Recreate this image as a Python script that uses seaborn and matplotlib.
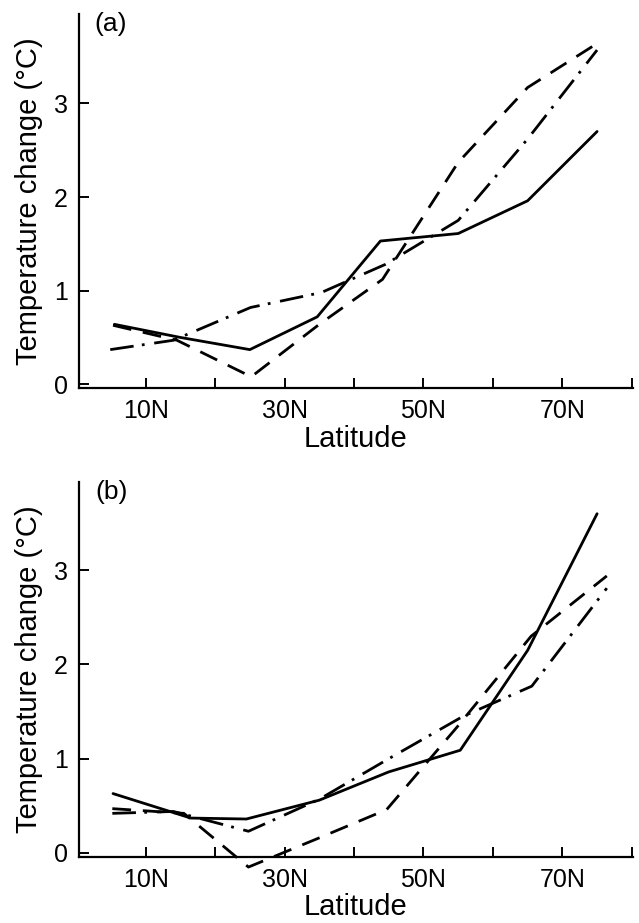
import matplotlib
matplotlib.use("Agg")
import matplotlib.pyplot as plt
import seaborn as sns
import pandas as pd

# ---------------- data ----------------
# Panel (a)
A_SOLID_LAT = [5.5, 15, 25, 34.7, 43.8, 55, 65, 75]
A_SOLID = [0.64, 0.50, 0.37, 0.72, 1.53, 1.61, 1.96, 2.70]
A_DASH_LAT = [5.3, 14.5, 25.2, 35, 44.1, 55, 65, 75]
A_DASH = [0.63, 0.47, 0.08, 0.64, 1.12, 2.37, 3.17, 3.64]
A_DASHDOT_LAT = [4.9, 14, 25.1, 35.3, 44.5, 55, 65, 75]
A_DASHDOT = [0.37, 0.47, 0.82, 0.98, 1.28, 1.75, 2.62, 3.57]

# Panel (b)
B_SOLID_LAT = [5.3, 16.5, 24.5, 35, 45, 55.3, 65, 75]
B_SOLID = [0.63, 0.37, 0.36, 0.56, 0.86, 1.09, 2.15, 3.60]
B_DASH_LAT = [5.2, 15.5, 24.8, 35, 44.7, 55, 65.5, 76.4]
B_DASH = [0.47, 0.42, -0.15, 0.16, 0.46, 1.35, 2.30, 2.94]
B_DASHDOT_LAT = [5.2, 14, 24.8, 35, 45, 55.7, 65.6, 76.4]
B_DASHDOT = [0.42, 0.44, 0.23, 0.57, 1.00, 1.45, 1.77, 2.81]

X_TICKS = [10, 20, 30, 40, 50, 60, 70, 80]
X_TICKLABELS = ["10N", "", "30N", "", "50N", "", "70N", ""]
Y_TICKS = [0, 1, 2, 3]
Y_TICKLABELS = ["0", "1", "2", "3"]
PANEL_LABELS = ["(a)", "(b)"]
XLABEL = "Latitude"
YLABEL = "Temperature change (°C)"

# ---------------- style ----------------
sns.set_theme(style="ticks")
plt.rcParams["font.family"] = ["Liberation Sans", "DejaVu Sans"]
plt.rcParams["lines.scale_dashes"] = False

DASHED = (0, (13.5, 8.5))
DASHDOT = (0, (17, 6, 2, 7))

fig = plt.figure(figsize=(6.39, 9.23), dpi=100)
W, H = 639.0, 923.0

def make_axes(left_px, right_px, top_px, bottom_px):
    return fig.add_axes([left_px / W, 1 - bottom_px / H,
                         (right_px - left_px) / W, (bottom_px - top_px) / H])

ax_a = make_axes(79, 632.5, 14, 388)
ax_b = make_axes(79, 632.5, 481.7, 856.7)

panels = [
    (ax_a, [(A_SOLID_LAT, A_SOLID, "-"), (A_DASH_LAT, A_DASH, DASHED),
            (A_DASHDOT_LAT, A_DASHDOT, DASHDOT)], (-0.04, 3.955)),
    (ax_b, [(B_SOLID_LAT, B_SOLID, "-"), (B_DASH_LAT, B_DASH, DASHED),
            (B_DASHDOT_LAT, B_DASHDOT, DASHDOT)], (-0.04, 3.94)),
]

for i, (ax, series, ylim) in enumerate(panels):
    for lat, val, ls in series:
        df = pd.DataFrame({"lat": lat, "val": val})
        sns.lineplot(data=df, x="lat", y="val", ax=ax, color="black",
                     linestyle=ls, linewidth=2.0, sort=False, estimator=None,
                     clip_on=False)
    ax.set_xlim(0.4, 80.1)
    ax.set_ylim(*ylim)
    ax.set_xticks(X_TICKS)
    ax.set_xticklabels(X_TICKLABELS)
    ax.set_yticks(Y_TICKS)
    ax.set_yticklabels(Y_TICKLABELS)
    ax.tick_params(axis="both", direction="in", length=7.5, width=1.4,
                   pad=8, labelsize=18, colors="black")
    for side in ("top", "right"):
        ax.spines[side].set_visible(False)
    for side in ("left", "bottom"):
        ax.spines[side].set_linewidth(1.6)
        ax.spines[side].set_color("black")
    ax.set_xlabel(XLABEL, fontsize=21, color="black")
    ax.set_ylabel(YLABEL, fontsize=21, color="black")
    ax.xaxis.set_label_coords(0.5, -0.098)
    ax.yaxis.set_label_coords(-0.065, 0.5)
    ax.text(0.058, 0.973, PANEL_LABELS[i], transform=ax.transAxes,
            ha="center", va="center", fontsize=19, color="black")

fig.savefig("out.png", dpi=100, facecolor="white")
